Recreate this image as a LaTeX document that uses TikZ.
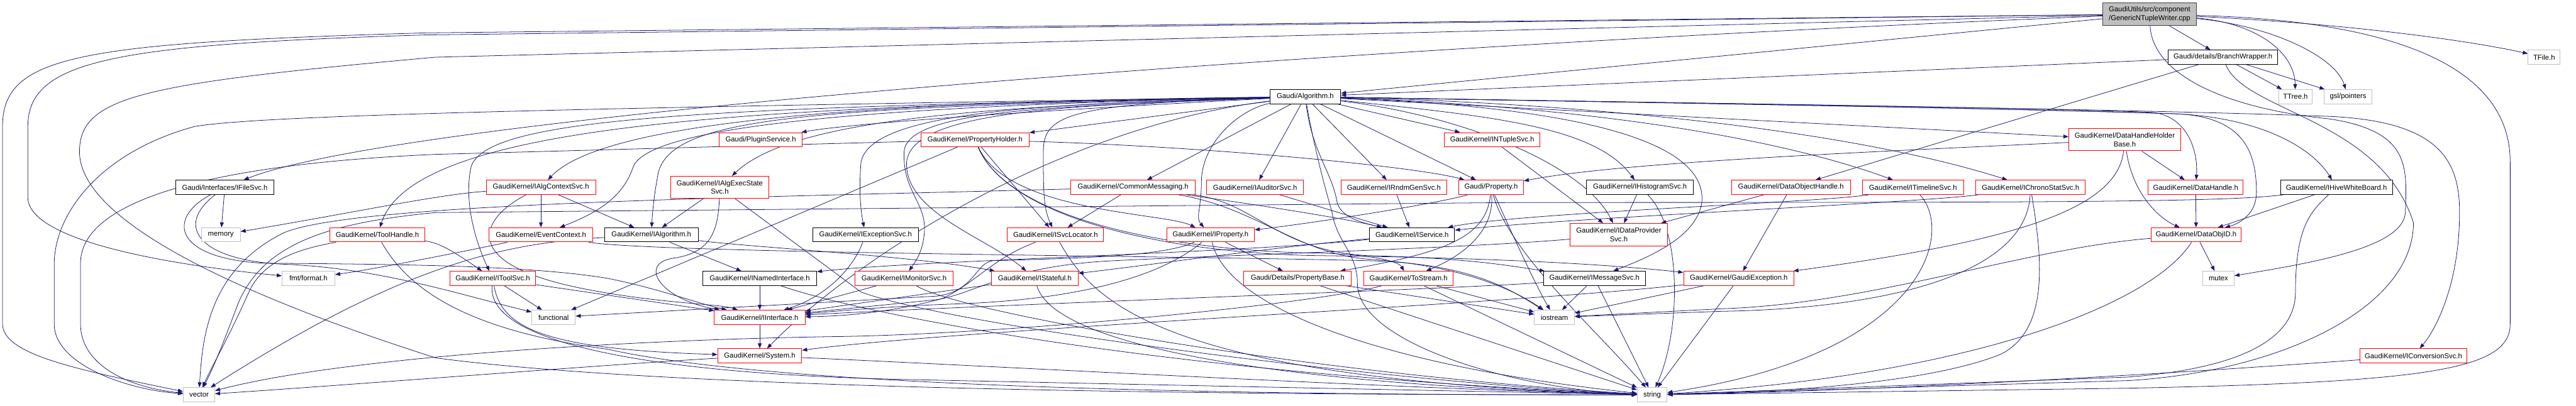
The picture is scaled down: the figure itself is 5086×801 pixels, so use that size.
\documentclass[tikz,border=0pt]{standalone}
\usepackage{fontspec}
\setmainfont{Liberation Sans}
\usetikzlibrary{arrows.meta}
\pgfdeclarelayer{bg}
\pgfsetlayers{bg,main}
\definecolor{edgec}{HTML}{191970}
\definecolor{sysc}{HTML}{BFBFBF}
\definecolor{rootfill}{HTML}{BFBFBF}
\definecolor{rootdraw}{HTML}{404040}
\definecolor{redc}{HTML}{FF0000}
\begin{document}
\begin{tikzpicture}[x=0.02cm,y=-0.02cm,
  nb/.style={draw,line width=0.7pt,fill=white,inner sep=0pt,minimum height=0.56cm,align=center,font=\fontsize{8}{9.6}\selectfont,text=black},
  rd/.style={nb,draw=redc},
  bk/.style={nb,draw=black},
  sy/.style={nb,draw=sysc},
  rt/.style={nb,draw=rootdraw,fill=rootfill},
  e/.style={draw=edgec,line width=0.55pt,-{Triangle[length=0.2cm,width=0.15cm]}}]
\useasboundingbox (0,0) rectangle (5086,801);
% nodes
\node[rt,minimum width=3.70cm,minimum height=0.90cm] (root) at (4244,28) {GaudiUtils/src/component\\/GenericNTupleWriter.cpp};
\node[bk,minimum width=4.32cm] (bw) at (4389,113) {Gaudi/details/BranchWrapper.h};
\node[sy,minimum width=1.26cm] (tfile) at (5023,113) {TFile.h};
\node[bk,minimum width=2.80cm] (alg) at (2577,191) {Gaudi/Algorithm.h};
\node[sy,minimum width=1.30cm] (ttree) at (4532,191) {TTree.h};
\node[sy,minimum width=1.88cm] (gsl) at (4636,191) {gsl/pointers};
\node[rd,minimum width=3.28cm] (plugin) at (1502,276) {Gaudi/PluginService.h};
\node[rd,minimum width=4.28cm] (pholder) at (1925,276) {GaudiKernel/PropertyHolder.h};
\node[rd,minimum width=3.76cm] (ntuple) at (2946,276) {GaudiKernel/INTupleSvc.h};
\node[rd,minimum width=4.42cm,minimum height=0.88cm] (dhhb) at (4195,276) {GaudiKernel/DataHandleHolder\\Base.h};
\node[bk,minimum width=3.88cm] (ifile) at (444,370) {Gaudi/Interfaces/IFileSvc.h};
\node[rd,minimum width=4.32cm] (actx) at (1068,370) {GaudiKernel/IAlgContextSvc.h};
\node[rd,minimum width=3.88cm,minimum height=0.88cm] (aexec) at (1421,370) {GaudiKernel/IAlgExecState\\Svc.h};
\node[rd,minimum width=4.92cm] (cmsg) at (2237,370) {GaudiKernel/CommonMessaging.h};
\node[rd,minimum width=3.82cm] (iaud) at (2478,370) {GaudiKernel/IAuditorSvc.h};
\node[rd,minimum width=4.16cm] (rndm) at (2752,370) {GaudiKernel/IRndmGenSvc.h};
\node[rd,minimum width=2.56cm] (prop) at (2944,370) {Gaudi/Property.h};
\node[bk,minimum width=4.22cm] (hist) at (3238,370) {GaudiKernel/IHistogramSvc.h};
\node[rd,minimum width=4.70cm] (doh) at (3536,370) {GaudiKernel/DataObjectHandle.h};
\node[rd,minimum width=4.00cm] (timeline) at (3777,370) {GaudiKernel/ITimelineSvc.h};
\node[rd,minimum width=4.32cm] (chrono) at (4009,370) {GaudiKernel/IChronoStatSvc.h};
\node[rd,minimum width=3.74cm] (dh) at (4335,370) {GaudiKernel/DataHandle.h};
\node[bk,minimum width=4.42cm] (hive) at (4613,370) {GaudiKernel/IHiveWhiteBoard.h};
\node[sy,minimum width=1.54cm] (memory) at (436,464) {memory};
\node[rd,minimum width=3.76cm] (toolh) at (745,464) {GaudiKernel/ToolHandle.h};
\node[rd,minimum width=4.08cm] (evctx) at (1068,464) {GaudiKernel/EventContext.h};
\node[bk,minimum width=3.70cm] (ialg) at (1286,464) {GaudiKernel/IAlgorithm.h};
\node[bk,minimum width=4.16cm] (iexc) at (1709,464) {GaudiKernel/IExceptionSvc.h};
\node[rd,minimum width=3.80cm] (svcloc) at (2084,464) {GaudiKernel/ISvcLocator.h};
\node[rd,minimum width=3.46cm] (iprop) at (2390,464) {GaudiKernel/IProperty.h};
\node[bk,minimum width=3.36cm] (isvc) at (2788,464) {GaudiKernel/IService.h};
\node[rd,minimum width=3.86cm,minimum height=0.90cm] (idp) at (3196,464) {GaudiKernel/IDataProvider\\Svc.h};
\node[rd,minimum width=3.56cm] (dobjid) at (4336,464) {GaudiKernel/DataObjID.h};
\node[sy,minimum width=2.08cm] (fmt) at (609,550) {fmt/format.h};
\node[rd,minimum width=3.38cm] (itool) at (973,550) {GaudiKernel/IToolSvc.h};
\node[bk,minimum width=4.50cm] (inamed) at (1500,550) {GaudiKernel/INamedInterface.h};
\node[rd,minimum width=3.86cm] (imon) at (1785,550) {GaudiKernel/IMonitorSvc.h};
\node[rd,minimum width=3.42cm] (istate) at (2043,550) {GaudiKernel/IStateful.h};
\node[rd,minimum width=4.24cm] (pbase) at (2562,550) {Gaudi/Details/PropertyBase.h};
\node[rd,minimum width=3.52cm] (tostream) at (2781,550) {GaudiKernel/ToStream.h};
\node[bk,minimum width=4.02cm] (imsg) at (3148,550) {GaudiKernel/IMessageSvc.h};
\node[rd,minimum width=4.36cm] (gexc) at (3433,550) {GaudiKernel/GaudiException.h};
\node[sy,minimum width=1.24cm] (mutex) at (4380,550) {mutex};
\node[sy,minimum width=1.72cm] (functional) at (1093,627) {functional};
\node[rd,minimum width=3.58cm] (iint) at (1500,627) {GaudiKernel/IInterface.h};
\node[sy,minimum width=1.58cm] (iostream) at (3069,627) {iostream};
\node[rd,minimum width=3.32cm] (system) at (1500,703) {GaudiKernel/System.h};
\node[rd,minimum width=4.20cm] (iconv) at (4765,703) {GaudiKernel/IConversionSvc.h};
\node[sy,minimum width=1.24cm] (vector) at (393,780) {vector};
\node[sy,minimum width=1.18cm] (string) at (3262,780) {string};
% edges
\begin{pgfonlayer}{bg}
% root
\draw[e] (root) -- (alg);
\draw[e] (root) -- (bw);
\draw[e] (root) .. controls (4450,45) and (4530,100) .. (ttree);
\draw[e] (root) .. controls (4480,50) and (4610,110) .. (gsl);
\draw[e] (root) .. controls (4600,45) and (4850,75) .. (tfile);
\draw[e] (root) .. controls (2600,95) and (800,230) .. (ifile);
\draw[e] (root) -- (840,65) .. controls (150,85) and (5,110) .. (5,250) -- (5,640) .. controls (5,700) and (150,730) .. (vector);
\draw[e] (root) -- (840,69) .. controls (220,88) and (55,120) .. (55,250) -- (55,390) .. controls (55,470) and (300,520) .. (fmt);
\draw[e] (root) -- (860,113) .. controls (280,165) and (157,190) .. (157,300) .. controls (157,420) and (400,560) .. (860,707) .. controls (1400,780) and (2800,780) .. (string);
\draw[e] (root) .. controls (4700,40) and (4956,120) .. (4956,320) -- (4956,640) .. controls (4956,730) and (4800,755) .. (4200,767) -- (string);
\draw[e] (root) .. controls (4250,150) and (4400,215) .. (4600,235) .. controls (4760,260) and (4752,330) .. (4749,420) .. controls (4745,490) and (4560,520) .. (mutex);
% branch wrapper
\draw[e] (bw) -- (alg);
\draw[e] (bw) -- (ttree);
\draw[e] (bw) -- (gsl);
\draw[e] (bw) -- (doh);
\draw[e] (bw) .. controls (4430,220) and (4700,235) .. (4765,440) .. controls (4765,610) and (4500,735) .. (4200,752) -- (string);
% algorithm
\draw[e] (alg) -- (ntuple);
\draw[e] (alg) -- (rndm);
\draw[e] (alg) -- (prop);
\draw[e] (alg) .. controls (2950,230) and (3150,250) .. (hist);
\draw[e] (alg) -- (iaud);
\draw[e] (alg) -- (cmsg);
\draw[e] (alg) -- (pholder);
\draw[e] (alg) .. controls (2200,210) and (1700,240) .. (plugin);
\draw[e] (alg) .. controls (1800,200) and (1200,230) .. (actx);
\draw[e] (alg) .. controls (1900,210) and (1560,240) .. (aexec);
\draw[e] (alg) -- (dhhb);
\draw[e] (alg) .. controls (3000,205) and (3450,250) .. (timeline);
\draw[e] (alg) .. controls (3000,200) and (3600,240) .. (chrono);
\draw[e] (alg) .. controls (3400,205) and (4000,212) .. (4250,222) .. controls (4320,230) and (4340,300) .. (dh);
\draw[e] (alg) .. controls (3400,205) and (4000,215) .. (4300,225) .. controls (4480,235) and (4570,300) .. (hive);
\draw[e] (alg) .. controls (3400,205) and (4000,215) .. (4300,225) .. controls (4430,232) and (4455,300) .. (4455,380) .. controls (4455,430) and (4410,445) .. (dobjid);
\draw[e] (alg) .. controls (3400,205) and (4200,215) .. (4600,230) .. controls (4820,240) and (4856,320) .. (4856,420) .. controls (4856,560) and (4810,650) .. (iconv);
\draw[e] (alg) .. controls (2900,230) and (3130,330) .. (idp);
\draw[e] (alg) .. controls (3200,215) and (3370,300) .. (3360,400) .. controls (3350,470) and (3250,510) .. (imsg);
\draw[e] (alg) .. controls (2590,300) and (2630,340) .. (2640,400) .. controls (2648,430) and (2690,440) .. (isvc);
\draw[e] (alg) .. controls (2100,205) and (2060,230) .. (2060,300) .. controls (2060,380) and (2060,410) .. (svcloc);
\draw[e] (alg) .. controls (2450,215) and (2372,280) .. (2372,360) .. controls (2372,410) and (2360,430) .. (iprop);
\draw[e] (alg) .. controls (2100,208) and (1800,220) .. (1790,320) .. controls (1785,420) and (1950,470) .. (istate);
\draw[e] (alg) .. controls (2100,205) and (1720,215) .. (1700,320) .. controls (1695,380) and (1700,420) .. (iexc);
\draw[e] (alg) .. controls (2100,210) and (1790,215) .. (1785,300) .. controls (1782,380) and (1830,400) .. (1825,460) .. controls (1822,500) and (1805,520) .. (imon);
\draw[e] (alg) .. controls (1600,212) and (1330,230) .. (1300,340) .. controls (1292,380) and (1288,420) .. (ialg);
\draw[e] (alg) .. controls (1700,210) and (1280,250) .. (1250,330) .. controls (1230,390) and (1180,420) .. (evctx);
\draw[e] (alg) .. controls (1500,210) and (820,240) .. (toolh);
\draw[e] (alg) .. controls (1400,212) and (960,230) .. (930,330) .. controls (915,400) and (940,480) .. (itool);
\draw[e] (alg) .. controls (1000,215) and (500,230) .. (384,250) .. controls (200,300) and (107,420) .. (107,523) -- (107,640) .. controls (107,720) and (250,770) .. (vector);
\draw[e] (alg) .. controls (2100,250) and (1700,500) .. (system);
\draw[e] (alg) .. controls (2600,320) and (2625,400) .. (2630,420) .. controls (2640,480) and (2680,500) .. (2680,560) .. controls (2680,680) and (3000,770) .. (string);
% property holder
\draw[e] (pholder) .. controls (2400,290) and (2800,330) .. (prop);
\draw[e] (pholder) .. controls (1990,420) and (2300,420) .. (iprop);
\draw[e] (pholder) -- (svcloc);
\draw[e] (pholder) -- (functional);
\draw[e] (pholder) -- (860,305) .. controls (400,325) and (159,400) .. (159,520) -- (159,640) .. controls (159,720) and (250,765) .. (vector);
\draw[e] (pholder) .. controls (1990,430) and (2300,500) .. (2600,505) .. controls (3000,510) and (3200,525) .. (gexc);
\draw[e] (pholder) .. controls (1990,430) and (2300,495) .. (2600,500) .. controls (2700,502) and (2760,515) .. (tostream);
% others row 3
\draw[e] (ntuple) -- (idp);
\draw[e] (dhhb) .. controls (3700,300) and (3200,320) .. (prop);
\draw[e] (dhhb) -- (dh);
\draw[e] (dhhb) .. controls (4210,380) and (4260,430) .. (dobjid);
\draw[e] (dhhb) .. controls (4180,420) and (3950,480) .. (gexc);
% row 4
\draw[e] (ifile) -- (memory);
\draw[e] (ifile) .. controls (330,430) and (340,510) .. (520,520) .. controls (800,522) and (1050,525) .. (1200,550) .. controls (1300,570) and (1380,600) .. (iint);
\draw[e] (ifile) .. controls (340,450) and (400,515) .. (560,522) .. controls (750,530) and (900,580) .. (functional);
\draw[e] (actx) -- (evctx);
\draw[e] (actx) -- (ialg);
\draw[e] (actx) .. controls (860,385) and (700,420) .. (memory);
\draw[e] (actx) .. controls (950,430) and (900,520) .. (1150,570) .. controls (1300,600) and (1420,600) .. (iint);
\draw[e] (aexec) -- (ialg);
\draw[e] (aexec) .. controls (1418,460) and (1400,500) .. (1330,510) .. controls (1260,520) and (1300,590) .. (iint);
\draw[e] (aexec) -- (1700,577) .. controls (1900,650) and (2800,760) .. (string);
\draw[e] (cmsg) -- (svcloc);
\draw[e] (cmsg) .. controls (2480,400) and (2520,495) .. (2700,505) .. controls (2900,510) and (2980,525) .. (imsg);
\draw[e] (cmsg) .. controls (2450,400) and (2650,430) .. (isvc);
\draw[e] (cmsg) .. controls (2480,410) and (2560,500) .. (2700,512) .. controls (2900,525) and (3000,580) .. (iostream);
\draw[e] (cmsg) .. controls (1500,390) and (700,400) .. (560,460) .. controls (420,530) and (400,650) .. (vector);
\draw[e] (iaud) -- (isvc);
\draw[e] (rndm) -- (isvc);
\draw[e] (prop) .. controls (2850,400) and (2600,440) .. (iprop);
\draw[e] (prop) .. controls (2935,470) and (2850,500) .. (pbase);
\draw[e] (prop) .. controls (2950,450) and (2900,500) .. (tostream);
\draw[e] (prop) .. controls (2980,500) and (3150,650) .. (string);
\draw[e] (prop) .. controls (2980,450) and (3030,560) .. (iostream);
\draw[e] (hist) -- (idp);
\draw[e] (hist) .. controls (3320,450) and (3320,650) .. (string);
\draw[e] (doh) -- (gexc);
\draw[e] (doh) -- (idp);
\draw[e] (timeline) .. controls (3600,400) and (3000,420) .. (isvc);
\draw[e] (timeline) .. controls (3860,460) and (3800,700) .. (string);
\draw[e] (chrono) .. controls (3800,400) and (3100,430) .. (isvc);
\draw[e] (chrono) .. controls (4000,550) and (3700,610) .. (3400,615) -- (iostream);
\draw[e] (chrono) .. controls (4030,500) and (4050,650) .. (3950,700) .. controls (3800,760) and (3500,775) .. (string);
\draw[e] (dh) -- (dobjid);
\draw[e] (hive) .. controls (4400,400) and (4000,400) .. (3000,400) -- (860,420) .. controls (650,440) and (520,480) .. (470,600) .. controls (440,680) and (420,730) .. (vector);
\draw[e] (hive) -- (dobjid);
\draw[e] (hive) .. controls (4560,420) and (4532,450) .. (4532,580) .. controls (4530,680) and (4400,730) .. (4200,745) -- (string);
\draw[e] (iconv) .. controls (4400,730) and (3800,770) .. (string);
% row 5
\draw[e] (toolh) .. controls (870,480) and (900,500) .. (itool);
\draw[e] (toolh) .. controls (600,490) and (520,510) .. (490,580) .. controls (450,670) and (420,720) .. (vector);
\draw[e] (toolh) .. controls (800,560) and (900,650) .. (1200,690) .. controls (1600,780) and (2800,780) .. (string);
\draw[e] (evctx) .. controls (950,490) and (750,530) .. (fmt);
\draw[e] (evctx) .. controls (1300,500) and (2300,505) .. (2700,515) .. controls (2900,520) and (2980,570) .. (iostream);
\draw[e] (ialg) -- (inamed);
\draw[e] (ialg) .. controls (1500,490) and (1800,505) .. (istate);
\draw[e] (ialg) .. controls (1000,480) and (800,520) .. (vector);
\draw[e] (iexc) .. controls (1680,540) and (1620,590) .. (iint);
\draw[e] (svcloc) .. controls (1960,510) and (1925,560) .. (1860,590) .. controls (1750,620) and (1650,625) .. (iint);
\draw[e] (svcloc) .. controls (2160,600) and (2300,750) .. (string);
\draw[e] (iprop) -- (pbase);
\draw[e] (iprop) .. controls (2300,540) and (2150,590) .. (1900,600) .. controls (1750,605) and (1650,615) .. (iint);
\draw[e] (iprop) .. controls (2420,600) and (2700,720) .. (string);
\draw[e] (iprop) .. controls (2300,505) and (2150,510) .. (1960,515) .. controls (1925,520) and (1925,575) .. (1850,585) -- (functional);
\draw[e] (isvc) .. controls (2450,500) and (1800,515) .. (inamed);
\draw[e] (isvc) .. controls (2500,490) and (2300,520) .. (istate);
\draw[e] (idp) .. controls (2900,490) and (2400,505) .. (2200,515) .. controls (1990,525) and (1925,580) .. (1850,592) -- (iint);
\draw[e] (dobjid) -- (mutex);
\draw[e] (dobjid) .. controls (4000,490) and (3700,600) .. (3400,610) -- (iostream);
\draw[e] (dobjid) .. controls (4250,600) and (3900,740) .. (string);
% row 6
\draw[e] (itool) -- (functional);
\draw[e] (itool) -- (iint);
\draw[e] (itool) .. controls (990,650) and (1080,690) .. (system);
\draw[e] (itool) .. controls (960,680) and (1300,740) .. (1800,750) .. controls (2500,765) and (3000,775) .. (string);
\draw[e] (inamed) -- (iint);
\draw[e] (inamed) .. controls (1700,620) and (2300,740) .. (string);
\draw[e] (imon) -- (iint);
\draw[e] (imon) .. controls (1900,620) and (2600,740) .. (string);
\draw[e] (istate) -- (iint);
\draw[e] (istate) .. controls (2080,680) and (2500,760) .. (string);
\draw[e] (pbase) -- (string);
\draw[e] (pbase) -- (iostream);
\draw[e] (tostream) -- (iostream);
\draw[e] (tostream) -- (string);
\draw[e] (tostream) .. controls (2600,600) and (2000,660) .. (1650,665) .. controls (1300,670) and (700,700) .. (vector);
\draw[e] (imsg) .. controls (2900,570) and (2000,600) .. (iint);
\draw[e] (imsg) -- (iostream);
\draw[e] (imsg) -- (string);
\draw[e] (gexc) .. controls (3000,600) and (1900,650) .. (system);
\draw[e] (gexc) -- (iostream);
\draw[e] (gexc) -- (string);
% row 7+
\draw[e] (iint) -- (system);
\draw[e] (system) .. controls (1200,720) and (700,760) .. (vector);
\draw[e] (system) .. controls (1900,720) and (2800,770) .. (string);
\end{pgfonlayer}
\end{tikzpicture}
\end{document}
